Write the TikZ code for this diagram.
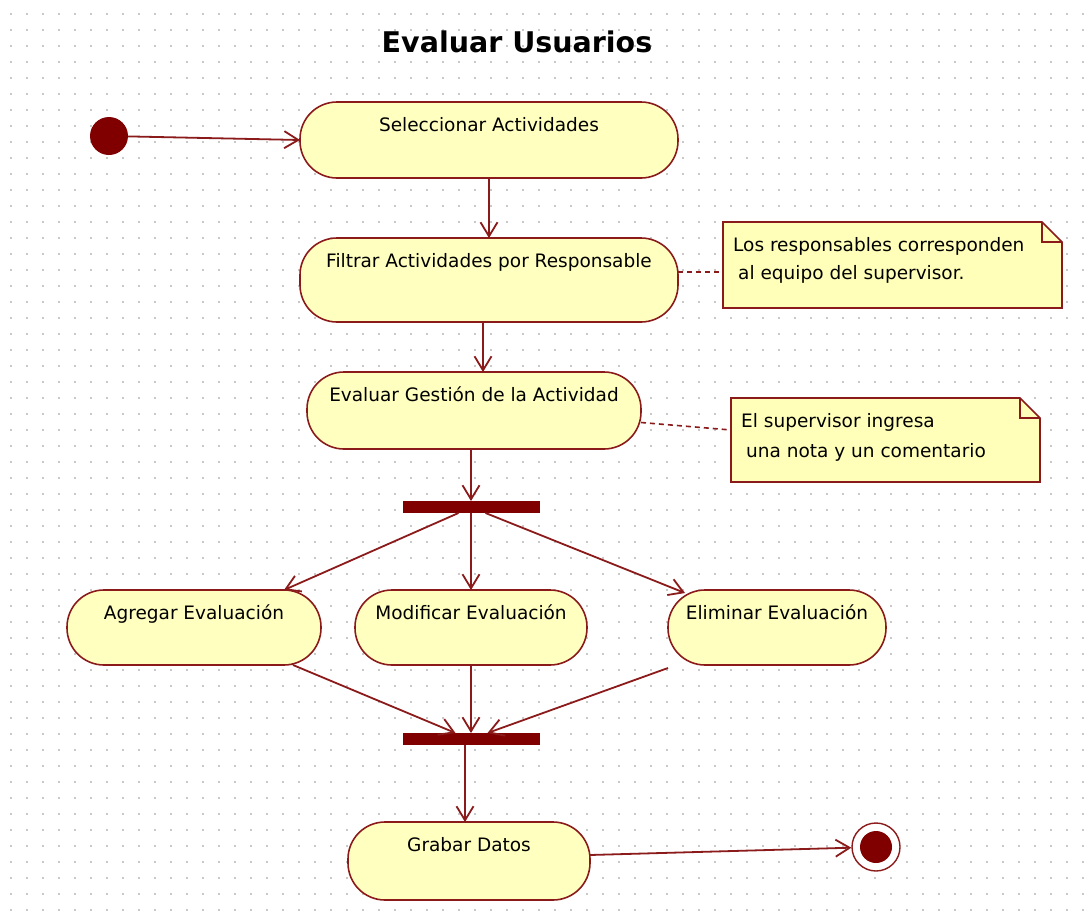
\documentclass[tikz,border=0pt]{standalone}
\usepackage{fontspec}
\setmainfont{DejaVu Sans}
\usetikzlibrary{arrows.meta}
\definecolor{umlred}{HTML}{800000}
\definecolor{umlline}{HTML}{8B1A1A}
\definecolor{actfill}{HTML}{FFFFC0}
\definecolor{notefill}{HTML}{FFFFB9}
\definecolor{griddot}{HTML}{C8C8C8}
\begin{document}
\begin{tikzpicture}[x=1pt,y=-1pt,
  flow/.style={draw=umlline, line width=1.8pt,
    -{Straight Barb[length=14pt,width=17pt,line width=1.8pt]}},
  notelink/.style={draw=umlline, line width=1.6pt, dash pattern=on 5pt off 4pt},
  act/.style={draw=umlline, line width=1.6pt, fill=actfill, rounded corners=37pt,
    inner sep=0pt, outer sep=0pt, anchor=north, text height=29pt,
    font=\fontsize{18.5}{22}\selectfont},
  bar/.style={fill=umlred, minimum width=137pt, minimum height=12pt,
    inner sep=0pt, outer sep=0pt},
  notebody/.style={inner sep=0pt, outer sep=0pt, anchor=north west},
  notebox/.style={draw=umlline, line width=1.6pt, fill=notefill},
  notefold/.style={draw=umlline, line width=1.6pt},
  notetext/.style={anchor=north west, inner sep=0pt, align=left,
    font=\fontsize{18.5}{28}\selectfont}
]
\useasboundingbox (0,0) rectangle (1090,921);
\fill[white] (0,0) rectangle (1090,921);

% dotted drawing grid
\foreach \gx in {11,27,...,1083}
  \foreach \gy in {14,30,...,910}
    \fill[griddot] (\gx-1,\gy-1) rectangle ++(2,2);

% title
\node[font=\fontsize{28.5}{32}\selectfont\bfseries] (title) at (517,42) {Evaluar Usuarios};

% start and end states
\node[circle, fill=umlred, minimum size=38pt, inner sep=0pt] (init) at (109,136) {};
\node[circle, draw=umlline, line width=1.4pt, fill=white, minimum size=48pt,
  inner sep=0pt] (fin) at (876,847) {};
\fill[umlred] (fin.center) circle (16pt);

% activities
\node[act, minimum width=378pt, text depth=47pt] (sel) at (489,102) {Seleccionar Actividades};
\node[act, minimum width=378pt, text depth=55pt] (fil) at (489,238) {Filtrar Actividades por Responsable};
\node[act, minimum width=334pt, text depth=48pt] (eva) at (474,372) {Evaluar Gestión de la Actividad};
\node[act, minimum width=254pt, text depth=46pt] (agr) at (194,590) {Agregar Evaluación};
\node[act, minimum width=232pt, text depth=46pt] (mod) at (471,590) {Modificar Evaluación};
\node[act, minimum width=218pt, text depth=46pt] (eli) at (777,590) {Eliminar Evaluación};
\node[act, minimum width=242pt, text depth=49pt] (gra) at (469,822) {Grabar Datos};

% fork and join bars
\node[bar] (fork) at (471.5,507) {};
\node[bar] (join) at (471.5,739) {};

% notes
\node[notebody, minimum width=339pt, minimum height=86pt] (n1) at (723,222) {};
\draw[notebox] (n1.north west) -- ([xshift=-20pt]n1.north east)
  -- ([yshift=-20pt]n1.north east) -- (n1.south east) -- (n1.south west) -- cycle;
\draw[notefold] ([xshift=-20pt]n1.north east) -- ([xshift=-20pt,yshift=-20pt]n1.north east)
  -- ([yshift=-20pt]n1.north east);
\node[notetext] (n1t) at (733,237) {Los responsables corresponden\\\hspace*{5pt}al equipo del supervisor.};

\node[notebody, minimum width=309pt, minimum height=84pt] (n2) at (731,398) {};
\draw[notebox] (n2.north west) -- ([xshift=-20pt]n2.north east)
  -- ([yshift=-20pt]n2.north east) -- (n2.south east) -- (n2.south west) -- cycle;
\draw[notefold] ([xshift=-20pt]n2.north east) -- ([xshift=-20pt,yshift=-20pt]n2.north east)
  -- ([yshift=-20pt]n2.north east);
\node[notetext, font=\fontsize{18.5}{30}\selectfont] (n2t) at (741,413) {El supervisor ingresa\\\hspace*{5pt}una nota y un comentario};

% note anchors
\draw[notelink] ([yshift=8pt]fil.east) -- ([yshift=8pt]fil.east -| n1.west);
\draw[notelink] ([yshift=-12pt]eva.east) -- ([yshift=10pt]n2.west);

% control flow
\draw[flow] (init) -- (sel.west);
\draw[flow] (sel.south) -- (fil.north);
\draw[flow] ([xshift=-6pt]fil.south) -- ([xshift=-6pt]fil.south |- eva.north);
\draw[flow] ([xshift=-0.5pt]fork.north |- eva.south) -- ([xshift=-0.5pt]fork.north);
\draw[flow] ([xshift=-13pt]fork.south) -- ([xshift=90pt]agr.north);
\draw[flow] ([xshift=-0.5pt]fork.south) -- ([xshift=-0.5pt]fork.south |- mod.north);
\draw[flow] ([xshift=14pt]fork.south) -- ([xshift=17pt,yshift=-3pt]eli.north west);
\draw[flow] ([xshift=99pt]agr.south) -- ([xshift=-16pt]join.north);
\draw[flow] ([xshift=-0.5pt]join.north |- mod.south) -- ([xshift=-0.5pt]join.north);
\draw[flow] ([yshift=-3pt]eli.south west) -- ([xshift=16pt]join.north);
\draw[flow] ([xshift=-6.5pt]join.south) -- ([xshift=-6.5pt]join.south |- gra.north);
\draw[flow] ([yshift=6pt]gra.east) -- (fin);
\end{tikzpicture}
\end{document}
